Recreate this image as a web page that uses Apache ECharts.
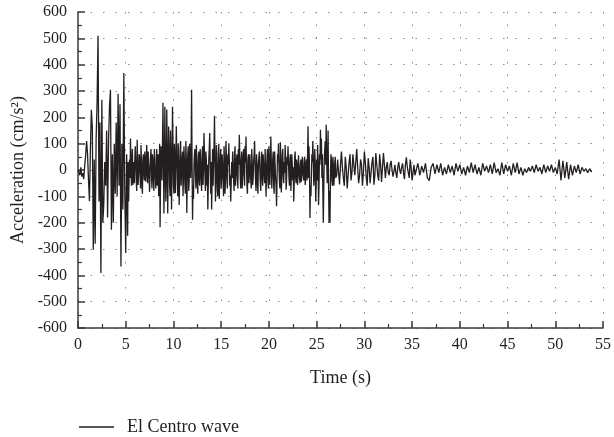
<!DOCTYPE html>
<html>
<head>
<meta charset="utf-8">
<script src="https://cdn.jsdelivr.net/npm/echarts@6/dist/echarts.min.js"></script>
<style>
  html, body { margin: 0; padding: 0; background: #fff; }
  #chart { width: 614px; height: 437px; }
</style>
</head>
<body>
<div id="chart"></div>
<script>
// El Centro ground acceleration record (cm/s^2), stored as segments of
// evenly spaced samples: each has a start time, a step and its values.

// 0.0 s – 5.0 s, every 0.1 s
const onset = [
  0, -8, -20, 10, -25, -12, -35, 15, 55, 110,
  60, -40, -119, 80, 229, 160, -303, 40, -280, 120,
  260, 510, -120, 180, -391, 267, -200, -130, 30, -60,
  150, -180, 110, 240, 305, -227, 60, -200, 100, -90,
  180, -100, 290, -60, 250, -366, 100, -150, 368, -80,
  -315
];

// 5.05 s – 27.0 s, every 0.05 s (one row per second)
const strongPhase = [
  -120, 60, -90, -250, 30, -120, -40, 40, -30, 120, 20, -60, 40, 80, -57, 10, 30, -50, 40, 90,
  30, -40, -80, 115, 20, -57, -10, 60, 50, -20, -70, 95, 30, -62, -90, 40, 60, -10, -40, 70,
  20, -45, 40, 95, -20, -50, 70, 20, -30, -83, 10, 50, 80, -30, -70, 60, 40, -40, -80, 80,
  10, -20, -70, 40, 80, -60, -20, 60, -100, -60, 100, -217, -30, 90, 20, -40, 100, 255, 60, -165,
  -20, 240, 40, -120, -30, 230, 60, -165, 20, 165, 90, -60, -100, 150, 30, -150, 10, 240, 100, -57,
  -90, 100, 30, -87, 50, 166, 60, -40, -100, 100, 20, -133, -40, 80, 110, -60, -20, 40, 70, -100,
  -30, 90, 30, -57, -90, 110, 40, -163, -20, 60, 90, -80, -40, 100, 30, -30, 60, 305, 20, -189,
  -60, -110, 20, 60, 80, -20, -70, 95, 20, -57, -90, 50, 70, -40, -60, 80, 30, -30, -80, 60,
  90, -57, 10, 140, 60, -20, -80, 70, 30, -60, 20, -150, -60, 40, 80, 140, 20, -90, 30, -150,
  -40, 80, -60, 10, 90, 206, 40, -120, -40, 95, 20, -80, -100, 60, 100, -110, -30, 40, 80, -70,
  -20, 60, 20, -50, -100, 90, 30, -90, -30, 110, 50, -40, -70, 60, 20, 100, 40, -60, -20, -120,
  -50, 30, -30, 70, 20, -40, -80, 60, 90, -60, -20, 40, 60, -30, -70, 80, 20, 134, 50, -30,
  -70, 40, 70, -70, -20, 50, 80, -20, -60, 90, 30, 127, 20, -60, -90, 40, 60, -50, -20, 60,
  10, -40, -70, 80, 30, -57, -30, 30, 60, 110, 20, -40, -80, 60, 30, -57, -90, 20, 50, 70,
  0, -50, -80, 40, 70, -30, -60, 60, 20, -20, -50, 80, 10, -100, -20, 50, 80, -40, -70, 90,
  20, -57, 30, 127, 40, -70, -20, 40, 70, -60, -90, 70, 20, -30, -60, -138, -40, 60, 30, 100,
  20, -40, -70, 105, 40, -85, -30, 60, 80, -20, -50, 30, -10, 95, 40, -75, -40, 50, 20, 90,
  30, -30, -60, 40, 60, -80, -30, 60, 20, -40, 10, -120, -50, 50, 70, -30, -50, 40, 20, -57,
  -20, 56, 10, -30, -50, 20, 40, -45, -20, 50, 10, -20, -40, 40, 50, -57, -30, 30, 40, -40,
  60, 166, -30, 90, 20, -182, -60, -100, -30, 60, 30, 110, 40, -60, -20, 80, 30, -120, -60, 40,
  -40, 95, 30, -133, -60, 60, 20, 153, 40, 120, -30, 60, -80, -200, -60, 40, 80, 110, 20, 172,
  60, -50, 30, 150, -60, -200, -80, -200, -20, 60, 40, -40, -60, 50, 20, -60, -30, 30, 50, -30
];

// 27.1 s – 36.0 s, every 0.1 s
const decay = [
  -20, 40, -10, -55, 20, 70, 10, -30, -60, 50,
  10, -70, -20, 30, 60, -40, -10, 60, 20, -20,
  30, 80, 10, -50, -20, 40, 20, -60, -10, 70,
  30, -30, -60, 45, 10, -50, -10, 30, 50, -56,
  -20, 64, 20, -20, -40, 60, 20, -45, 10, 64,
  20, -30, 10, 30, -10, -20, 20, 35, 0, -25,
  -5, 20, -10, -30, 10, 30, 0, -15, 10, 25,
  -10, -35, 20, 48, 10, -10, -30, 40, 10, -40,
  -10, 20, -20, -15, 10, 25, 5, -20, -5, 15
];

// 36.2 s – 53.8 s, every 0.2 s
const tail = [
  -10, 25, -30, -40, 10,
  25, -15, 20, -10, 25, -20, 10, -15, 20, -10,
  15, -20, 25, -5, 20, -15, 10, -20, 15, -10,
  28, -10, 20, -15, 10, -20, 25, -5, 15, -10,
  20, -15, 28, -10, 5, -20, 28, -15, 20, -5,
  15, -20, 25, -10, 28, -15, 10, -20, 5, -10,
  10, -5, 15, -10, 20, -5, 10, -15, 20, -10,
  15, -5, 20, -10, 10, -15, 40, -40, 35, -30,
  30, -35, 20, -20, 15, -10, 20, -15, 10, -5,
  5, -10, 5, -8
];

const segments = [
  { start: 0.0, step: 0.1, values: onset },
  { start: 5.05, step: 0.05, values: strongPhase },
  { start: 27.1, step: 0.1, values: decay },
  { start: 36.2, step: 0.2, values: tail }
];

const SERIES_NAME = 'El Centro wave';
const X_NAME = 'Time (s)';
const Y_NAME = 'Acceleration (cm/s²)';

const points = [];
segments.forEach(seg => {
  seg.values.forEach((a, i) => points.push([+(seg.start + i * seg.step).toFixed(2), a]));
});

const FONT = 'Liberation Serif';
const INK = '#231f20';
const axisColor = '#3a3a3a';
const gridLine = { show: true, lineStyle: { color: '#8a8a8a', width: 1, type: [1.5, 11] } };

const chart = echarts.init(document.getElementById('chart'), null, { renderer: 'canvas' });
chart.setOption({
  animation: false,
  backgroundColor: '#ffffff',
  textStyle: { fontFamily: FONT },
  grid: { left: 78, right: 10, top: 12, bottom: 109, containLabel: false },
  legend: {
    left: 79,
    top: 418,
    padding: 0,
    itemWidth: 35,
    itemHeight: 1.3,
    icon: 'rect',
    textStyle: { fontFamily: FONT, fontSize: 18, color: INK, padding: [0, 0, 0, 8] },
    data: [SERIES_NAME]
  },
  xAxis: {
    type: 'value',
    min: 0,
    max: 55,
    interval: 5,
    name: X_NAME,
    nameLocation: 'middle',
    nameGap: 41,
    nameTextStyle: { fontFamily: FONT, fontSize: 18, color: INK },
    axisLine: { show: true, onZero: false, lineStyle: { color: axisColor, width: 1.5 } },
    axisTick: { show: true, inside: true, length: 7, lineStyle: { color: axisColor, width: 1.5 } },
    minorTick: { show: true, splitNumber: 2, length: 4, lineStyle: { color: axisColor, width: 1.2 } },
    axisLabel: { fontFamily: FONT, fontSize: 16, color: INK, margin: 9 },
    splitLine: gridLine
  },
  yAxis: {
    type: 'value',
    min: -600,
    max: 600,
    interval: 100,
    name: Y_NAME,
    nameLocation: 'middle',
    nameGap: 51,
    nameRotate: 90,
    nameTextStyle: { fontFamily: FONT, fontSize: 18, color: INK },
    axisLine: { show: true, onZero: false, lineStyle: { color: axisColor, width: 1.5 } },
    axisTick: { show: true, inside: true, length: 7, lineStyle: { color: axisColor, width: 1.5 } },
    minorTick: { show: true, splitNumber: 2, length: 4, lineStyle: { color: axisColor, width: 1.2 } },
    axisLabel: { fontFamily: FONT, fontSize: 16, color: INK, margin: 11 },
    splitLine: gridLine
  },
  series: [{
    name: SERIES_NAME,
    type: 'line',
    data: points,
    showSymbol: false,
    symbol: 'none',
    sampling: null,
    color: INK,
    lineStyle: { color: INK, width: 1.3 }
  }]
});
</script>
</body>
</html>
